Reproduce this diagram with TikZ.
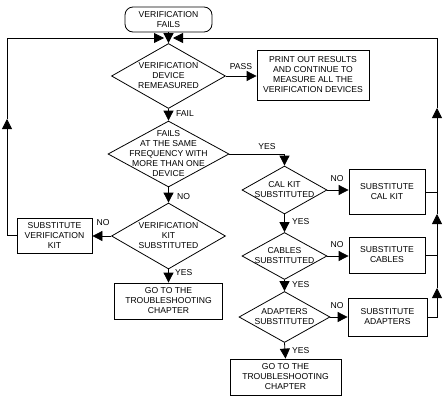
\documentclass[tikz,border=0pt]{standalone}
\usepackage{fontspec}
\setmainfont{Liberation Sans}
\usetikzlibrary{arrows.meta,shapes.geometric}

\tikzset{
  flow/.style={line width=0.8pt},
  tri/.style={flow, -{Triangle[length=10pt,width=10pt]}},
  terminal/.style={draw, flow, rectangle, rounded corners=8pt, align=center,
    font=\fontsize{8.6}{9.5}\selectfont, inner sep=0pt},
  block/.style={draw, flow, rectangle, align=center,
    font=\fontsize{8.6}{10}\selectfont, inner sep=0pt},
  decision/.style={draw, flow, diamond, inner sep=0pt},
  txt/.style={align=center, font=\fontsize{8.6}{10}\selectfont, inner sep=0pt},
  lbl/.style={font=\fontsize{8.6}{10}\selectfont, inner sep=0pt},
}

\begin{document}
\begin{tikzpicture}[x=1pt,y=-1pt]
    \useasboundingbox (0,0) rectangle (447,402);

    % Start
    \node[terminal, minimum width=87pt, minimum height=25pt] (start) at (168.5,19.5) {VERIFICATION\\FAILS};

    % Main column
    \node[decision, minimum width=114pt, minimum height=65pt] (remeas) at (168.5,76) {};
    \node[txt] (remeastxt) at (remeas) {VERIFICATION\\DEVICE\\REMEASURED};
    \node[block, minimum width=112pt, minimum height=50pt] (print) at (313,75) {PRINT OUT RESULTS\\AND CONTINUE TO\\MEASURE ALL THE\\VERIFICATION DEVICES};

    \node[decision, minimum width=121pt, minimum height=66pt] (fails) at (168.5,154) {};
    \node[txt] (failstxt) at (fails) {FAILS\\AT THE SAME\\FREQUENCY WITH\\MORE THAN ONE\\DEVICE};

    \node[decision, minimum width=114pt, minimum height=66pt] (vkit) at (168.5,236) {};
    \node[txt] (vkittxt) at (vkit) {VERIFICATION\\KIT\\SUBSTITUTED};
    \node[block, minimum width=75pt, minimum height=35pt] (subvkit) at (54.5,235.5) {SUBSTITUTE\\VERIFICATION\\KIT};
    \node[block, minimum width=108pt, minimum height=36pt] (goto1) at (168.5,301) {GO TO THE\\TROUBLESHOOTING\\CHAPTER};

    % Right column
    \node[decision, minimum width=85pt, minimum height=48pt] (calkit) at (284.5,190) {};
    \node[txt] (calkittxt) at (calkit) {CAL KIT\\SUBSTITUTED};
    \node[block, minimum width=76pt, minimum height=45pt] (subcal) at (387,192) {SUBSTITUTE\\CAL KIT};

    \node[decision, minimum width=85pt, minimum height=47pt] (cables) at (284.5,256) {};
    \node[txt] (cablestxt) at (cables) {CABLES\\SUBSTITUTED};
    \node[block, minimum width=76pt, minimum height=36pt] (subcab) at (387,255) {SUBSTITUTE\\CABLES};

    \node[decision, minimum width=91pt, minimum height=51pt] (adapt) at (284.5,317) {};
    \node[txt] (adapttxt) at (adapt) {ADAPTERS\\SUBSTITUTED};
    \node[block, minimum width=79pt, minimum height=38pt] (subadp) at (387.5,317) {SUBSTITUTE\\ADAPTERS};
    \node[block, minimum width=111pt, minimum height=36pt] (goto2) at (285.5,377) {GO TO THE\\TROUBLESHOOTING\\CHAPTER};

    % Loop points
    \coordinate (jl) at (164,38);
    \coordinate (jr) at (173,38);
    \coordinate (lup) at (7,119);
    \coordinate (r1) at (437,288);
    \coordinate (r2) at (437,214);
    \coordinate (r3) at (437,108);

    % Connectors
    \draw[tri] (start) -- (remeas.north);
    \draw[tri] (remeas.east) -- (print.west |- remeas.east);
    \draw[tri] (remeas.south) -- (fails.north);
    \draw[tri] (fails.east) -| (calkit.north);
    \draw[tri] (fails.south) -- (vkit.north);
    \draw[tri] (vkit.west) -- (subvkit.east |- vkit.west);
    \draw[tri] (vkit.south) -- (goto1.north);
    \draw[tri] (calkit.east) -- (subcal.west |- calkit.east);
    \draw[tri] (calkit.south) -- (cables.north);
    \draw[tri] (cables.east) -- (subcab.west |- cables.east);
    \draw[tri] (cables.south) -- (adapt.north);
    \draw[tri] (adapt.east) -- (subadp.west |- adapt.east);
    \draw[tri] (adapt.south) -- (goto2.north);

    % Left loop
    \draw[tri] (subvkit.west) -| (lup);
    \draw[tri] (lup) |- (jl);

    % Right loop
    \draw[tri] (subadp.east) -| (r1);
    \draw[tri] (r1) -- (r2);
    \draw[tri] (r2) -- (r3);
    \draw[tri] (r3) |- (jr);
    \draw[flow] (subcal.east) -- (subcal.east -| r1);
    \draw[flow] (subcab.east) -- (subcab.east -| r1);

    % Labels
    \node[lbl] (pass) at (241,67) {PASS};
    \node[lbl, anchor=west] (fail) at (176,114) {FAIL};
    \node[lbl] (yes0) at (267,147) {YES};
    \node[lbl, anchor=west] (no0) at (177,197) {NO};
    \node[lbl] (no1) at (103,223) {NO};
    \node[lbl, anchor=west] (yes1) at (175,273) {YES};
    \node[lbl] (no2) at (337,179) {NO};
    \node[lbl, anchor=west] (yes2) at (292,222) {YES};
    \node[lbl] (no3) at (337,245) {NO};
    \node[lbl, anchor=west] (yes3) at (292,285) {YES};
    \node[lbl] (no4) at (337,306) {NO};
    \node[lbl, anchor=west] (yes4) at (292,351) {YES};
\end{tikzpicture}
\end{document}
